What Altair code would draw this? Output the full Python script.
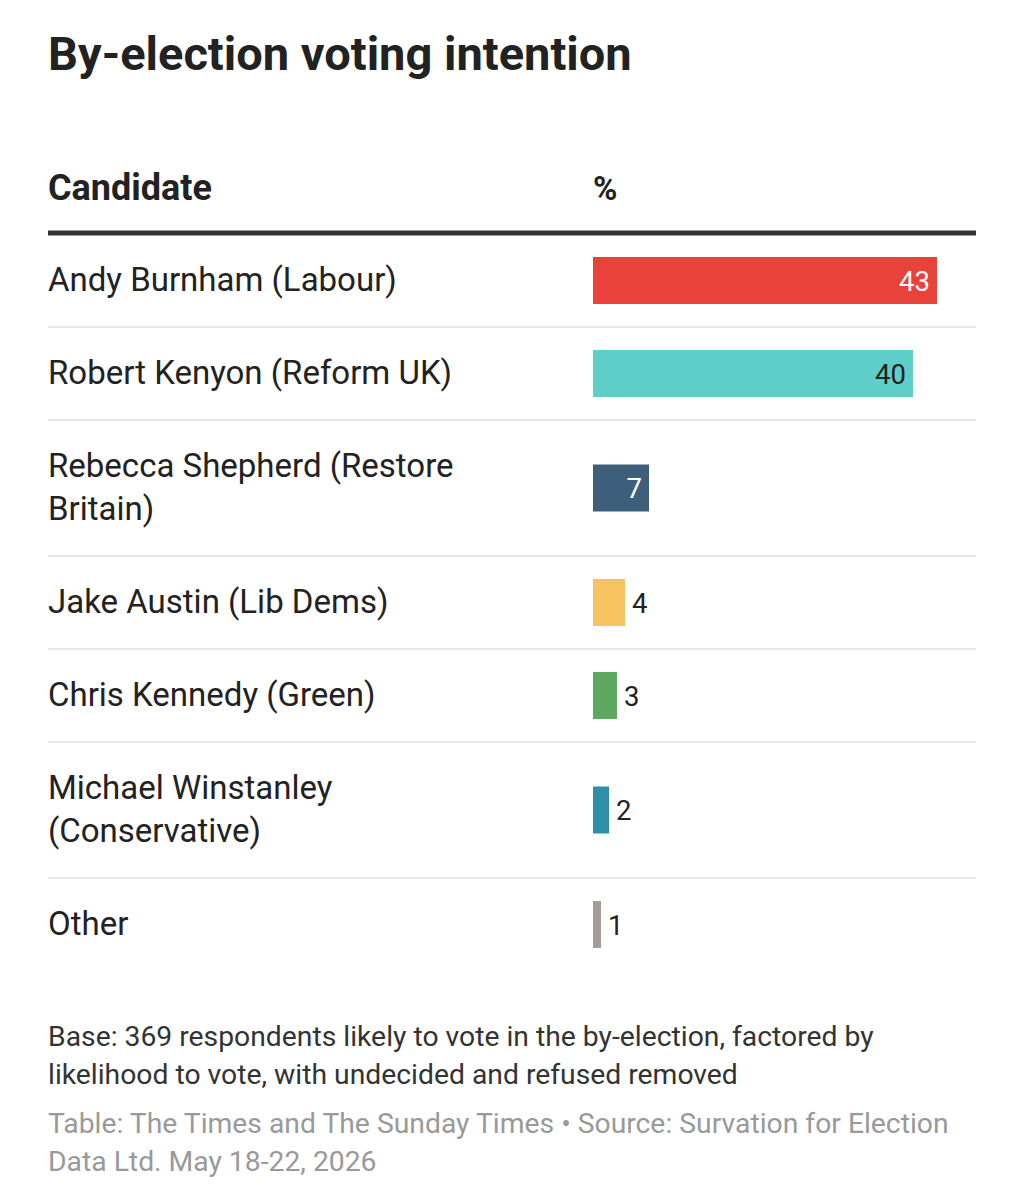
import altair as alt
import pandas as pd

# ---------------- data ----------------
candidates = [
    "Andy Burnham (Labour)",
    "Robert Kenyon (Reform UK)",
    "Rebecca Shepherd (Restore\nBritain)",
    "Jake Austin (Lib Dems)",
    "Chris Kennedy (Green)",
    "Michael Winstanley\n(Conservative)",
    "Other",
]
shares = [43, 40, 7, 4, 3, 2, 1]
bar_colors = ["#E8423A", "#5DCFC8", "#3E5F7C", "#F5C35F", "#5DA75E", "#2E8FA6", "#A59C98"]

title_text = "By-election voting intention"
col_headers = ["Candidate", "%"]
note_lines = [
    "Base: 369 respondents likely to vote in the by-election, factored by",
    "likelihood to vote, with undecided and refused removed",
]
source_lines = [
    "Table: The Times and The Sunday Times \u2022 Source: Survation for Election",
    "Data Ltd. May 18-22, 2026",
]

# ---------------- layout ----------------
W, H = 1008, 1184
LEFT, RIGHT = 40, 968
TABLE_TOP = 226
ROW_PAD, LINE_H = 50, 43
BAR_H = 47
BAR_X0, PX_PER_UNIT, X_MAX = 585, 8, 48
FONT = "Roboto"


def luminance(hex_color):
    vals = [int(hex_color[i:i + 2], 16) / 255 for i in (1, 3, 5)]
    lin = [v / 12.92 if v <= 0.03928 else ((v + 0.055) / 1.055) ** 2.4 for v in vals]
    return 0.2126 * lin[0] + 0.7152 * lin[1] + 0.0722 * lin[2]


rows = []
y = TABLE_TOP
for i, (name, share, col) in enumerate(zip(candidates, shares, bar_colors)):
    n_lines = name.count("\n") + 1
    h = ROW_PAD + LINE_H * n_lines
    rows.append({
        "order": i,
        "candidate": name,
        "share": share,
        "lines": n_lines,
        "top": y,
        "bottom": y + h,
        "mid": y + h / 2,
        "txtcol": "#222222" if luminance(col) > 0.4 else "#ffffff",
    })
    y += h
df = pd.DataFrame(rows)
n_rows = len(df)

yscale = alt.Scale(domain=[0, H], range=[0, H], nice=False, zero=False)
xscale = alt.Scale(domain=[0, X_MAX], range=[BAR_X0, BAR_X0 + PX_PER_UNIT * X_MAX], nice=False, zero=False)
colscale = alt.Scale(domain=candidates, range=bar_colors)

base = alt.Chart(df)

separators = base.transform_filter(alt.datum.order < n_rows - 1).mark_rule(
    color="#E8E8E8", strokeWidth=2
).encode(
    x=alt.value(LEFT), x2=alt.value(RIGHT),
    y=alt.Y("bottom:Q", scale=yscale, axis=None),
)

bars = base.transform_calculate(
    x0="0", b0=f"datum.mid - {BAR_H / 2}", b1=f"datum.mid + {BAR_H / 2}"
).mark_rect().encode(
    x=alt.X("x0:Q", scale=xscale, axis=None),
    x2="share:Q",
    y=alt.Y("b0:Q", scale=yscale, axis=None),
    y2="b1:Q",
    color=alt.Color("candidate:N", scale=colscale, legend=None),
)

labels = base.transform_calculate(
    ly=f"datum.mid - (datum.lines - 1) * {LINE_H / 2}"
).mark_text(
    align="left", baseline="middle", lineBreak="\n", lineHeight=LINE_H,
    font=FONT, fontSize=33, color="#222222",
).encode(
    x=alt.value(LEFT),
    y=alt.Y("ly:Q", scale=yscale, axis=None),
    text="candidate:N",
)

val_inside = base.transform_filter(alt.datum.share >= 5).mark_text(
    align="right", baseline="middle", dx=-7, dy=2, font=FONT, fontSize=27.5,
).encode(
    x=alt.X("share:Q", scale=xscale, axis=None),
    y=alt.Y("mid:Q", scale=yscale, axis=None),
    text="share:Q",
    color=alt.Color("txtcol:N", scale=None),
)

val_outside = base.transform_filter(alt.datum.share < 5).mark_text(
    align="left", baseline="middle", dx=7, dy=2, font=FONT, fontSize=27.5, color="#222222",
).encode(
    x=alt.X("share:Q", scale=xscale, axis=None),
    y=alt.Y("mid:Q", scale=yscale, axis=None),
    text="share:Q",
)

one = alt.Data(values=[{}])

title = alt.Chart(one).mark_text(
    text=title_text, align="left", baseline="alphabetic", font=FONT,
    fontSize=47, fontWeight="bold", color="#222222",
).encode(x=alt.value(LEFT), y=alt.value(62))

head_cand = alt.Chart(one).mark_text(
    text=col_headers[0], align="left", baseline="alphabetic", font=FONT,
    fontSize=36, fontWeight="bold", color="#222222",
).encode(x=alt.value(LEFT), y=alt.value(192))

head_pct = alt.Chart(one).mark_text(
    text=col_headers[1], align="left", baseline="alphabetic", font=FONT,
    fontSize=33, fontWeight="bold", color="#222222",
).encode(x=alt.X("zero:Q", scale=xscale, axis=None), y=alt.value(192)).transform_calculate(zero="0")

head_rule = alt.Chart(one).mark_rule(color="#333333", strokeWidth=5).encode(
    x=alt.value(LEFT), x2=alt.value(RIGHT), y=alt.value(225)
)

note = alt.Chart(one).mark_text(
    text=note_lines, align="left", baseline="alphabetic", font=FONT,
    fontSize=28.3, lineHeight=38, color="#333333",
).encode(x=alt.value(LEFT), y=alt.value(1038))

source = alt.Chart(one).mark_text(
    text=source_lines, align="left", baseline="alphabetic", font=FONT,
    fontSize=28.3, lineHeight=38, color="#999999",
).encode(x=alt.value(LEFT), y=alt.value(1125))

chart = alt.layer(
    separators, bars, labels, val_inside, val_outside,
    title, head_cand, head_pct, head_rule, note, source,
).properties(
    width=W, height=H,
    autosize=alt.AutoSizeParams(type="none"),
    padding=0,
).configure(
    font=FONT, background="white",
    view=alt.ViewConfig(stroke="transparent", strokeWidth=0),
)

chart.save("out.html", embed_options={"renderer": "svg", "actions": False})
